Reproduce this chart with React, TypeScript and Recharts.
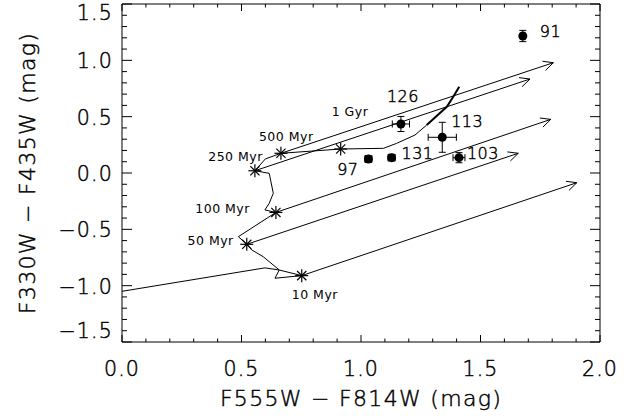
import {
  ComposedChart,
  XAxis,
  YAxis,
  Scatter,
  ErrorBar,
  ReferenceLine,
  Label,
} from "recharts";

// cluster photometry (F555W-F814W, F330W-F435W)
const clusterNames = ["91", "126", "113", "97", "131", "103"];
const clusterX = [1.677, 1.167, 1.34, 1.031, 1.128, 1.41];
const clusterY = [1.216, 0.435, 0.317, 0.124, 0.136, 0.136];
const clusterXErr = [0.01, 0.036, 0.059, 0.015, 0.015, 0.025];
const clusterYErr = [0.05, 0.067, 0.133, 0.03, 0.03, 0.045];

// model ages marked on the track
const ageNames = ["10 Myr", "50 Myr", "100 Myr", "250 Myr", "500 Myr", "1 Gyr"];
const ageX = [0.752, 0.522, 0.644, 0.556, 0.665, 0.915];
const ageY = [-0.911, -0.633, -0.35, 0.02, 0.175, 0.213];

// reddening vector tips, one per age (1 Gyr has none)
const vectorEndX = [1.903, 1.658, 1.794, 1.707, 1.805];
const vectorEndY = [-0.086, 0.175, 0.476, 0.834, 0.979];

// evolutionary track, young -> old
const trackX = [
  0.0, 0.598, 0.658, 0.64, 0.752, 0.658, 0.591, 0.543, 0.522, 0.487, 0.644, 0.598,
  0.616, 0.633, 0.616, 0.556, 0.6, 0.665, 0.915, 1.094, 1.149, 1.226, 1.275,
];
const trackY = [
  -1.05, -0.842, -0.861, -0.934, -0.911, -0.861, -0.743, -0.683, -0.633, -0.565, -0.35,
  -0.328, -0.269, -0.18, -0.003, 0.02, 0.125, 0.175, 0.213, 0.219, 0.263, 0.337, 0.426,
];
// older end of the track, drawn heavier
const trackOldX = [1.275, 1.359, 1.386, 1.411];
const trackOldY = [0.426, 0.588, 0.677, 0.766];

const X_TICKS = [
  0, 0.1, 0.2, 0.3, 0.4, 0.5, 0.6, 0.7, 0.8, 0.9, 1.0, 1.1, 1.2, 1.3, 1.4, 1.5, 1.6,
  1.7, 1.8, 1.9, 2.0,
];
const Y_TICKS = [
  -1.5, -1.4, -1.3, -1.2, -1.1, -1.0, -0.9, -0.8, -0.7, -0.6, -0.5, -0.4, -0.3, -0.2,
  -0.1, 0, 0.1, 0.2, 0.3, 0.4, 0.5, 0.6, 0.7, 0.8, 0.9, 1.0, 1.1, 1.2, 1.3, 1.4, 1.5,
];

const clusters = clusterNames.map((name, i) => ({
  name,
  x: clusterX[i],
  y: clusterY[i],
  xErr: clusterXErr[i],
  yErr: clusterYErr[i],
}));
const ages = ageNames.map((name, i) => ({ name, x: ageX[i], y: ageY[i] }));
const track = trackX.map((x, i) => ({ x, y: trackY[i] }));
const trackOld = trackOldX.map((x, i) => ({ x, y: trackOldY[i] }));

// thin stroked lettering, close to the plotting package's vector font
const FONT = "'DejaVu Sans', sans-serif";
const thin = { fontFamily: FONT, fontWeight: 200, fill: "#000", stroke: "#000", strokeWidth: 0.45 };
const big = { ...thin, fontSize: 20.5, letterSpacing: 1.2 };
const title = { ...thin, fontSize: 22, letterSpacing: 1.3 };
const mid = { ...thin, fontSize: 16, letterSpacing: 0.4 };
const small = { fontFamily: FONT, fontSize: 12.5, letterSpacing: 0.5, fill: "#000" };

const isMajor = (v: number) => Math.abs(v * 2 - Math.round(v * 2)) < 1e-6;
const fmt = (v: number) => (v < -1e-9 ? "\u2212" : "") + Math.abs(v).toFixed(1);

function BottomTick({ x, y, payload }: any) {
  const major = isMajor(payload.value);
  return (
    <g>
      <line x1={x} y1={y} x2={x} y2={y - (major ? 7 : 3.5)} stroke="#000" />
      {major && (
        <text x={x} y={y + 34} textAnchor="middle" style={big}>
          {fmt(payload.value)}
        </text>
      )}
    </g>
  );
}

function TopTick({ x, y, payload }: any) {
  const major = isMajor(payload.value);
  return <line x1={x} y1={y} x2={x} y2={y + (major ? 7 : 3.5)} stroke="#000" />;
}

function LeftTick({ x, y, payload }: any) {
  const v = payload.value;
  const major = isMajor(v);
  // end labels are pulled inside the frame
  const dy = v >= 1.5 ? 16 : v <= -1.5 ? -4 : 8;
  return (
    <g>
      <line x1={x} y1={y} x2={x + (major ? 10 : 5)} y2={y} stroke="#000" />
      {major && (
        <text x={x - 9} y={y + dy} textAnchor="end" style={big}>
          {fmt(v)}
        </text>
      )}
    </g>
  );
}

function RightTick({ x, y, payload }: any) {
  const major = isMajor(payload.value);
  return <line x1={x} y1={y} x2={x - (major ? 10 : 5)} y2={y} stroke="#000" />;
}

const clusterLabelPos: Record<string, [number, number, "start" | "middle" | "end"]> = {
  "91": [17, 1, "start"],
  "126": [2, -22, "middle"],
  "113": [9, -10, "start"],
  "97": [-10, 16, "end"],
  "131": [10, 1, "start"],
  "103": [8, 1, "start"],
};

const ageLabelPos: Record<string, [number, number, "start" | "middle" | "end"]> = {
  "10 Myr": [-10, 23, "start"],
  "50 Myr": [-13, 1, "end"],
  "100 Myr": [-26, 1, "end"],
  "250 Myr": [8, -10, "end"],
  "500 Myr": [-22, -12, "start"],
  "1 Gyr": [-9, -33, "start"],
};

function ClusterDot({ cx, cy, payload }: any) {
  const [dx, dy, anchor] = clusterLabelPos[payload.name];
  return (
    <g>
      <circle cx={cx} cy={cy} r={4.5} fill="#000" />
      <text x={cx + dx} y={cy + dy} textAnchor={anchor} style={mid}>
        {payload.name}
      </text>
    </g>
  );
}

function AgeStar({ cx, cy, payload }: any) {
  const [dx, dy, anchor] = ageLabelPos[payload.name];
  const r = 6.5;
  const d = 4.6;
  return (
    <g stroke="#000" strokeWidth={1.2}>
      <line x1={cx - r} y1={cy} x2={cx + r} y2={cy} />
      <line x1={cx} y1={cy - r} x2={cx} y2={cy + r} />
      <line x1={cx - d} y1={cy - d} x2={cx + d} y2={cy + d} />
      <line x1={cx - d} y1={cy + d} x2={cx + d} y2={cy - d} />
      <text x={cx + dx} y={cy + dy} textAnchor={anchor} style={small} stroke="none">
        {payload.name}
      </text>
    </g>
  );
}

function VectorArrow({ x1, y1, x2, y2 }: any) {
  const ang = Math.atan2(y2 - y1, x2 - x1);
  const len = 11;
  const spread = 0.45;
  const ax = x2 - len * Math.cos(ang - spread);
  const ay = y2 - len * Math.sin(ang - spread);
  const bx = x2 - len * Math.cos(ang + spread);
  const by = y2 - len * Math.sin(ang + spread);
  return (
    <g stroke="#000" strokeWidth={1} fill="none">
      <line x1={x1} y1={y1} x2={x2} y2={y2} />
      <polyline points={`${ax},${ay} ${x2},${y2} ${bx},${by}`} />
    </g>
  );
}

const noShape = () => <g />;

export default function App() {
  return (
    <div style={{ position: "absolute", left: 0, top: 0, background: "#fff" }}>
      <ComposedChart width={640} height={416} margin={{ top: 3, right: 39, bottom: 10, left: 10 }}>
        <XAxis
          xAxisId="b"
          type="number"
          dataKey="x"
          domain={[0, 2]}
          ticks={X_TICKS}
          interval={0}
          tickSize={0}
          tickMargin={0}
          tickLine={false}
          tick={BottomTick}
          axisLine={{ stroke: "#000" }}
          height={64}
          allowDataOverflow
        >
          <Label
            content={({ viewBox }: any) => (
              <text
                x={viewBox.x + viewBox.width / 2}
                y={viewBox.y + 64}
                textAnchor="middle"
                style={title}
              >
                F555W {"\u2212"} F814W (mag)
              </text>
            )}
          />
        </XAxis>
        <XAxis
          xAxisId="t"
          orientation="top"
          type="number"
          dataKey="x"
          domain={[0, 2]}
          ticks={X_TICKS}
          interval={0}
          tickSize={0}
          tickMargin={0}
          tickLine={false}
          tick={TopTick}
          axisLine={{ stroke: "#000" }}
          height={1}
          allowDataOverflow
        />
        <YAxis
          yAxisId="l"
          type="number"
          dataKey="y"
          domain={[-1.5, 1.5]}
          ticks={Y_TICKS}
          interval={0}
          tickSize={0}
          tickMargin={0}
          tickLine={false}
          tick={LeftTick}
          axisLine={{ stroke: "#000" }}
          width={112}
          allowDataOverflow
        >
          <Label
            content={({ viewBox }: any) => {
              const cx = 35;
              const cy = viewBox.y + viewBox.height / 2;
              return (
                <text
                  x={cx}
                  y={cy}
                  textAnchor="middle"
                  transform={`rotate(-90 ${cx} ${cy})`}
                  style={title}
                >
                  F330W {"\u2212"} F435W (mag)
                </text>
              );
            }}
          />
        </YAxis>
        <YAxis
          yAxisId="r"
          orientation="right"
          type="number"
          dataKey="y"
          domain={[-1.5, 1.5]}
          ticks={Y_TICKS}
          interval={0}
          tickSize={0}
          tickMargin={0}
          tickLine={false}
          tick={RightTick}
          axisLine={{ stroke: "#000" }}
          width={1}
          allowDataOverflow
        />

        {vectorEndX.map((ex, i) => (
          <ReferenceLine
            key={ageNames[i]}
            xAxisId="b"
            yAxisId="l"
            segment={[
              { x: ageX[i], y: ageY[i] },
              { x: ex, y: vectorEndY[i] },
            ]}
            shape={VectorArrow}
            ifOverflow="visible"
          />
        ))}

        <Scatter
          xAxisId="b"
          yAxisId="l"
          data={track}
          line={{ stroke: "#000", strokeWidth: 1 }}
          shape={noShape}
          isAnimationActive={false}
        />
        <Scatter
          xAxisId="b"
          yAxisId="l"
          data={trackOld}
          line={{ stroke: "#000", strokeWidth: 2 }}
          shape={noShape}
          isAnimationActive={false}
        />
        <Scatter
          xAxisId="b"
          yAxisId="l"
          data={ages}
          shape={AgeStar}
          isAnimationActive={false}
        />
        <Scatter
          xAxisId="b"
          yAxisId="l"
          data={clusters}
          shape={ClusterDot}
          isAnimationActive={false}
        >
          <ErrorBar dataKey="xErr" direction="x" width={3.5} stroke="#000" strokeWidth={1} />
          <ErrorBar dataKey="yErr" direction="y" width={3.5} stroke="#000" strokeWidth={1} />
        </Scatter>
      </ComposedChart>
    </div>
  );
}
